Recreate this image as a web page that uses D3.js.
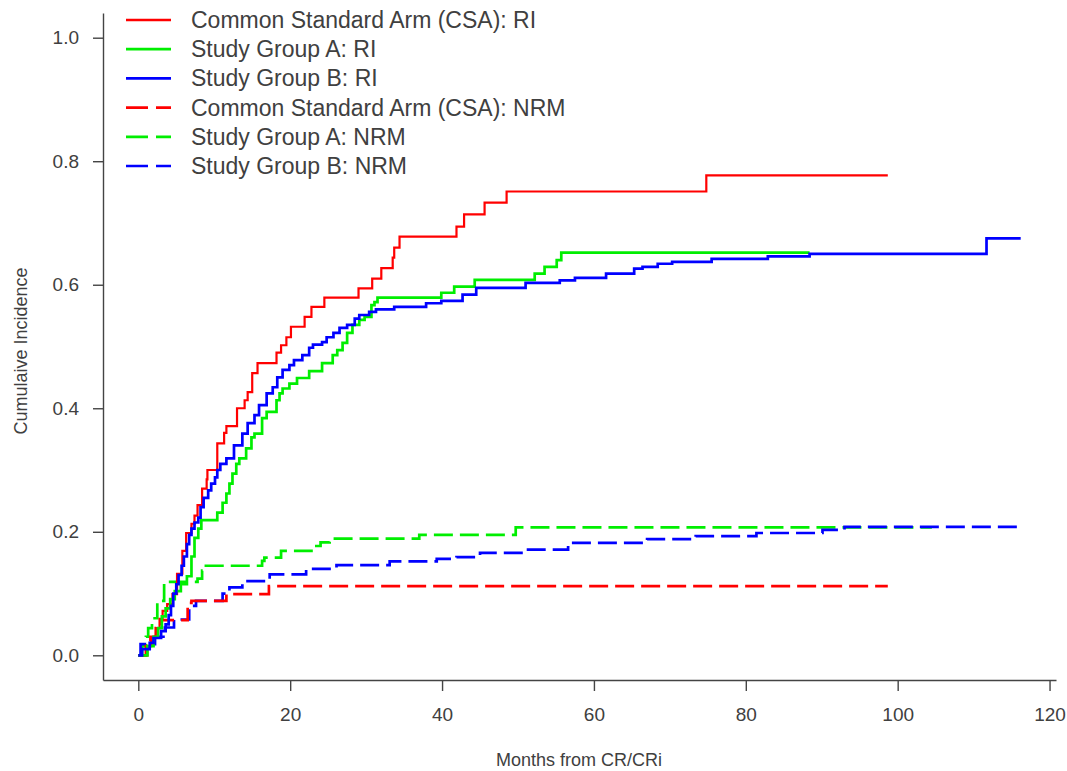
<!DOCTYPE html>
<html>
<head>
<meta charset="utf-8">
<script src="https://cdn.jsdelivr.net/npm/d3@7"></script>
<style>
  body { margin: 0; background: #fff; }
  text { font-family: "Liberation Sans", Arial, sans-serif; fill: #404040; }
</style>
</head>
<body>
<svg width="1067" height="771"></svg>
<script>
// tick values
var xTicks = [0, 20, 40, 60, 80, 100, 120];
var yTicks = [0, 0.2, 0.4, 0.6, 0.8, 1.0];

// step curves: [month, cumulative incidence after the jump]
var csaRI = [[0,0],[1.2,0.015],[1.7,0.028],[2.4,0.044],[2.8,0.059],[3.2,0.072],[3.8,0.083],[4.5,0.099],[5.1,0.132],[5.8,0.169],[6.3,0.198],[7.0,0.213],[7.4,0.226],[7.8,0.243],[8.4,0.27],[9.0,0.285],[9.1,0.30],[10.4,0.343],[11.3,0.36],[11.6,0.371],[13.0,0.40],[14.0,0.413],[14.4,0.426],[15.0,0.457],[15.7,0.473],[18.2,0.49],[18.8,0.502],[19.5,0.515],[20.1,0.532],[21.9,0.548],[22.8,0.564],[24.5,0.579],[29.0,0.594],[30.8,0.61],[32.0,0.627],[33.5,0.644],[33.7,0.66],[34.4,0.678],[41.9,0.694],[42.9,0.714],[45.6,0.733],[48.5,0.751],[74.8,0.777]];
var groupARI = [[0,0],[1.2,0.015],[2.0,0.03],[2.6,0.044],[3.1,0.063],[3.6,0.076],[4.2,0.091],[4.8,0.104],[5.6,0.115],[6.4,0.128],[7.0,0.16],[7.4,0.19],[7.9,0.205],[8.3,0.219],[10.4,0.231],[11.1,0.247],[11.6,0.262],[12.0,0.278],[12.4,0.294],[12.9,0.31],[13.3,0.319],[14.2,0.335],[14.9,0.353],[15.3,0.359],[16.3,0.384],[16.9,0.394],[18.2,0.413],[18.6,0.424],[19.0,0.432],[19.9,0.44],[20.9,0.449],[22.5,0.46],[24.2,0.473],[25.6,0.486],[26.2,0.494],[26.9,0.506],[27.5,0.522],[28.2,0.535],[29.1,0.543],[29.8,0.548],[30.7,0.567],[31.1,0.572],[31.5,0.579],[39.9,0.587],[41.6,0.597],[44.3,0.608],[52.2,0.618],[53.5,0.629],[55.1,0.64],[55.7,0.652]];
var groupBRI = [[0,0],[0.5,0.01],[1.5,0.02],[2.0,0.028],[3.0,0.039],[3.6,0.05],[4.0,0.065],[4.3,0.08],[4.6,0.1],[5.0,0.115],[5.3,0.13],[5.7,0.145],[6.0,0.16],[6.4,0.18],[6.7,0.195],[7.0,0.205],[7.4,0.215],[7.9,0.223],[8.2,0.24],[8.6,0.255],[9.2,0.267],[9.6,0.278],[10.1,0.288],[10.4,0.3],[10.8,0.31],[11.6,0.319],[12.6,0.34],[13.7,0.359],[14.4,0.376],[15.3,0.389],[15.9,0.405],[16.9,0.424],[17.7,0.434],[18.3,0.45],[19.0,0.462],[19.9,0.47],[20.5,0.478],[21.6,0.486],[22.5,0.498],[23.0,0.503],[24.2,0.507],[24.8,0.515],[25.7,0.522],[26.5,0.53],[27.5,0.535],[28.5,0.545],[29.1,0.551],[30.4,0.556],[31.3,0.56],[33.7,0.564],[37.9,0.57],[39.9,0.574],[42.7,0.584],[44.5,0.595],[51.0,0.603],[55.5,0.607],[57.5,0.611],[61.6,0.618],[65.3,0.626],[66.4,0.629],[68.4,0.634],[70.3,0.637],[75.5,0.642],[82.9,0.646],[88.4,0.650],[111.7,0.675]];
var csaNRM = [[0,0],[1.0,0.015],[1.6,0.03],[2.3,0.044],[2.9,0.057],[6.5,0.085],[7.0,0.088],[11.6,0.099],[17.2,0.112]];
var groupANRM = [[0,0],[0.5,0.015],[1.0,0.03],[1.3,0.044],[1.8,0.06],[2.5,0.088],[3.4,0.119],[7.8,0.124],[8.4,0.137],[8.9,0.145],[16.3,0.153],[16.6,0.158],[18.8,0.169],[22.8,0.177],[24.0,0.183],[25.2,0.189],[37.0,0.195],[49.7,0.207]];
var groupBNRM = [[0,0],[0.3,0.018],[2.2,0.03],[3.5,0.045],[4.7,0.058],[6.7,0.08],[7.6,0.088],[11.1,0.1],[12.0,0.11],[13.7,0.12],[17.3,0.131],[22.1,0.14],[26.1,0.146],[33.1,0.152],[39.3,0.156],[41.9,0.159],[45.0,0.166],[50.8,0.171],[56.6,0.182],[67.0,0.188],[73.4,0.193],[81.4,0.198],[90.1,0.203],[93.0,0.208]];

// last follow-up month of each curve
var endMonths = [98.7, 88.4, 116.2, 98.7, 104.5, 116.2];
var labels = ["Common Standard Arm (CSA): RI", "Study Group A: RI", "Study Group B: RI",
              "Common Standard Arm (CSA): NRM", "Study Group A: NRM", "Study Group B: NRM"];
var colors = ["#ff0000", "#00ee00", "#0000ff", "#ff0000", "#00ee00", "#0000ff"];

var series = [csaRI, groupARI, groupBRI, csaNRM, groupANRM, groupBNRM].map(function(d, i) {
  return { pts: d.concat([[endMonths[i], d[d.length - 1][1]]]), color: colors[i], dashed: i > 2, label: labels[i] };
});

var svg = d3.select("svg");

// R style: axis range padded 4% on each side
var x = d3.scaleLinear().domain([-4.65, 120.85]).range([103, 1056]);
var y = d3.scaleLinear().domain([-0.04, 1.04]).range([680, 13]);

var gx = svg.append("g")
  .attr("transform", "translate(0,680)")
  .call(d3.axisBottom(x).tickValues(xTicks).tickSize(11).tickSizeOuter(0).tickPadding(17).tickFormat(d3.format("d")));
var gy = svg.append("g")
  .attr("transform", "translate(103,0)")
  .call(d3.axisLeft(y).tickValues(yTicks).tickSize(10).tickSizeOuter(0).tickPadding(14).tickFormat(d3.format(".1f")));

[gx, gy].forEach(function(g) {
  g.selectAll("path, line").attr("stroke", "#444").attr("stroke-width", 1.4);
  g.selectAll("text").attr("font-size", 19).attr("fill", "#404040").style("font-family", "'Liberation Sans', Arial, sans-serif");
});

svg.append("text")
  .attr("x", 579).attr("y", 766)
  .attr("text-anchor", "middle")
  .attr("font-size", 18)
  .text("Months from CR/CRi");

svg.append("text")
  .attr("transform", "translate(27,351) rotate(-90)")
  .attr("text-anchor", "middle")
  .attr("font-size", 18)
  .text("Cumulaive Incidence");

var line = d3.line()
  .x(function(d) { return x(d[0]); })
  .y(function(d) { return y(d[1]); })
  .curve(d3.curveStepAfter);

// draw dashed NRM curves first, then the solid RI curves, A under B
var order = [4, 5, 3, 0, 1, 2];
svg.append("g").selectAll("path")
  .data(order.map(function(i) { return series[i]; }))
  .enter().append("path")
  .attr("d", function(d) { return line(d.pts); })
  .attr("fill", "none")
  .attr("stroke", function(d) { return d.color; })
  .attr("stroke-width", function(d) { return d.label === labels[0] ? 2.2 : 2.7; })
  .attr("stroke-dasharray", function(d) { return d.dashed ? "19,7" : null; });

// legend
var legend = svg.append("g").selectAll("g")
  .data(series)
  .enter().append("g")
  .attr("transform", function(d, i) { return "translate(0," + (20 + i * 29.2) + ")"; });
legend.append("line")
  .attr("x1", 126).attr("x2", 171)
  .attr("stroke", function(d) { return d.color; })
  .attr("stroke-width", 2.7)
  .attr("stroke-dasharray", function(d) { return d.dashed ? "22,8" : null; });
legend.append("text")
  .attr("x", 191).attr("y", 8)
  .attr("font-size", 23)
  .text(function(d) { return d.label; });
</script>
</body>
</html>
